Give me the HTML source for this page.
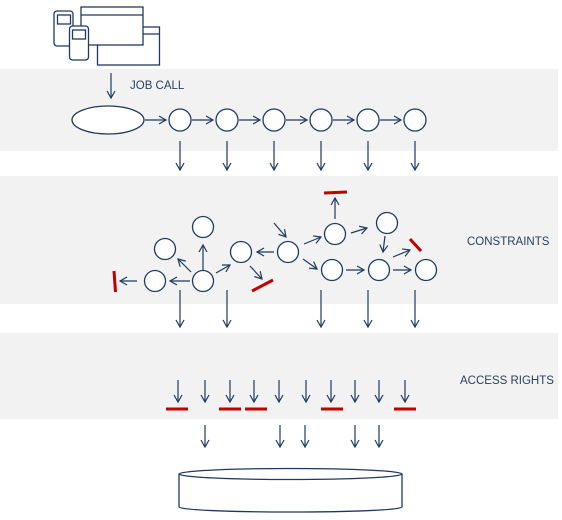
<!DOCTYPE html>
<html><head><style>
body{margin:0;background:#fff;width:562px;height:520px;overflow:hidden}
svg{display:block}
text{font-family:"Liberation Sans",sans-serif;font-size:11.5px;fill:#2a3f5f}
</style></head><body>
<svg width="562" height="520" viewBox="0 0 562 520">
<defs>
<marker id="a" markerWidth="10" markerHeight="10" refX="8" refY="5" orient="auto" markerUnits="userSpaceOnUse">
<path d="M1,1 L8,5 L1,9" fill="none" stroke="#1f3a5f" stroke-width="1.2"/>
</marker>
</defs>
<rect x="0" y="69" width="558" height="82" fill="#f2f2f2"/>
<rect x="0" y="176" width="558" height="128" fill="#f2f2f2"/>
<rect x="0" y="333" width="558" height="86" fill="#f2f2f2"/>
<g fill="#fff" stroke="#1f3a5f" stroke-width="1.3">
<rect x="97.5" y="27" width="62" height="38"/><line x1="97.5" y1="34" x2="159.5" y2="34"/>
<rect x="81" y="7" width="62" height="38"/><line x1="81" y1="15" x2="143" y2="15"/>
<rect x="54" y="11" width="19" height="35" rx="3"/><rect x="57.5" y="15" width="13" height="9"/>
<rect x="69.5" y="26" width="19" height="34" rx="3"/><rect x="72.5" y="30" width="13" height="9"/>
</g>
<text x="130" y="89">JOB CALL</text>
<text x="467" y="245">CONSTRAINTS</text>
<text x="460" y="384">ACCESS RIGHTS</text>
<g stroke="#1f3a5f" stroke-width="1.2" fill="none" marker-end="url(#a)">
<line x1="111" y1="73" x2="111" y2="98"/>
<line x1="145" y1="120" x2="166" y2="120"/>
<line x1="192" y1="120" x2="213" y2="120"/>
<line x1="239" y1="120" x2="260" y2="120"/>
<line x1="286" y1="120" x2="307" y2="120"/>
<line x1="333" y1="120" x2="354" y2="120"/>
<line x1="380" y1="120" x2="401" y2="120"/>
<line x1="180" y1="141" x2="180" y2="170"/><line x1="227" y1="141" x2="227" y2="170"/>
<line x1="274" y1="141" x2="274" y2="170"/><line x1="321" y1="141" x2="321" y2="170"/>
<line x1="368" y1="141" x2="368" y2="170"/><line x1="415" y1="141" x2="415" y2="170"/>
<line x1="203" y1="270" x2="203" y2="245"/>
<line x1="191" y1="272" x2="178" y2="259"/>
<line x1="190" y1="281" x2="170" y2="281"/>
<line x1="137" y1="281" x2="120" y2="281"/>
<line x1="216" y1="273" x2="230" y2="265"/>
<line x1="250" y1="266" x2="262" y2="279"/>
<line x1="274" y1="252" x2="257" y2="252"/>
<line x1="274" y1="223" x2="286" y2="237"/>
<line x1="304" y1="244" x2="321" y2="237"/>
<line x1="335" y1="219" x2="335" y2="198"/>
<line x1="351" y1="233" x2="367" y2="228"/>
<line x1="385" y1="236" x2="383" y2="252"/>
<line x1="303" y1="259" x2="317" y2="269"/>
<line x1="346" y1="270" x2="364" y2="270"/>
<line x1="393" y1="270" x2="411" y2="270"/>
<line x1="393" y1="257" x2="410" y2="250"/>
<line x1="180" y1="290" x2="180" y2="327"/><line x1="227" y1="290" x2="227" y2="327"/>
<line x1="321" y1="290" x2="321" y2="327"/><line x1="368" y1="290" x2="368" y2="327"/>
<line x1="415" y1="290" x2="415" y2="327"/>
<line x1="178" y1="380" x2="178" y2="402"/><line x1="205" y1="380" x2="205" y2="402"/>
<line x1="230" y1="380" x2="230" y2="402"/><line x1="254" y1="380" x2="254" y2="402"/>
<line x1="279" y1="380" x2="279" y2="402"/><line x1="306" y1="380" x2="306" y2="402"/>
<line x1="331" y1="380" x2="331" y2="402"/><line x1="355" y1="380" x2="355" y2="402"/>
<line x1="379" y1="380" x2="379" y2="402"/><line x1="405" y1="380" x2="405" y2="402"/>
<line x1="205" y1="425" x2="205" y2="447"/><line x1="280" y1="425" x2="280" y2="447"/>
<line x1="305" y1="425" x2="305" y2="447"/><line x1="355" y1="425" x2="355" y2="447"/>
<line x1="379" y1="425" x2="379" y2="447"/>
</g>
<g fill="#fff" stroke="#1f3a5f" stroke-width="1.3">
<ellipse cx="108" cy="120" rx="36" ry="14"/>
<circle cx="180" cy="120" r="11"/><circle cx="227" cy="120" r="11"/><circle cx="274" cy="120" r="11"/>
<circle cx="321" cy="120" r="11"/><circle cx="368" cy="120" r="11"/><circle cx="415" cy="120" r="11"/>
<circle cx="203" cy="227" r="10.5"/><circle cx="165" cy="249" r="10.5"/><circle cx="155" cy="281" r="10.5"/>
<circle cx="203" cy="281" r="10.5"/><circle cx="241" cy="252" r="10.5"/><circle cx="288" cy="252" r="10.5"/>
<circle cx="335" cy="234" r="10.5"/><circle cx="387" cy="223" r="10.5"/><circle cx="332" cy="270" r="10.5"/>
<circle cx="379" cy="270" r="10.5"/><circle cx="426" cy="270" r="10.5"/>
<path d="M179,474 V507 A111,5 0 0 0 402,507 V474"/>
<ellipse cx="290.5" cy="474" rx="111.5" ry="5.5"/>
</g>
<g stroke="#c00000" stroke-width="3">
<line x1="114" y1="271" x2="115.5" y2="292"/>
<line x1="252" y1="291" x2="273" y2="280"/>
<line x1="324" y1="193" x2="347" y2="192"/>
<line x1="410" y1="239" x2="421" y2="251"/>
<line x1="166" y1="409" x2="188" y2="409"/><line x1="219" y1="409" x2="241" y2="409"/>
<line x1="245" y1="409" x2="267" y2="409"/><line x1="321" y1="409" x2="343" y2="409"/>
<line x1="394" y1="409" x2="416" y2="409"/>
</g>
</svg>
</body></html>
